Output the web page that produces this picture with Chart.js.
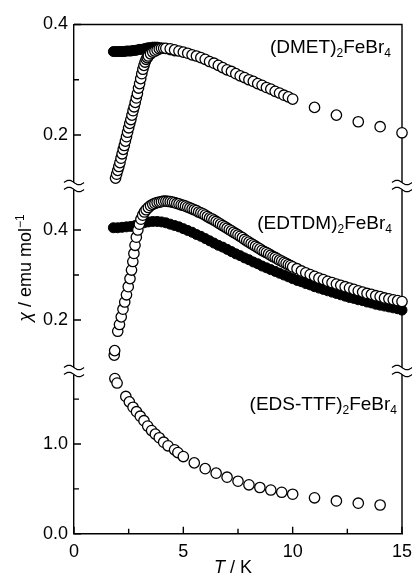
<!DOCTYPE html>
<html>
<head>
<meta charset="utf-8">
<script src="https://cdn.jsdelivr.net/npm/chart.js@4.4.1/dist/chart.umd.min.js"></script>
<style>
  html, body { margin: 0; padding: 0; background: #fff; }
  #wrap { width: 412px; height: 576px; }
</style>
</head>
<body>
<div id="wrap"><canvas id="chart" width="412" height="576"></canvas></div>
<script>
// (DMET)2FeBr4, top panel
const dmetOpenT = [
  1.90, 1.95, 2.00, 2.05, 2.10, 2.15, 2.20, 2.25, 2.30, 2.35, 2.40, 2.45, 2.50, 2.55, 2.60,
  2.65, 2.70, 2.75, 2.80, 2.85, 2.90, 2.95, 3.00, 3.05, 3.10, 3.15, 3.20, 3.25, 3.30, 3.35,
  3.40, 3.50, 3.60, 3.70, 3.80, 3.90, 4.00, 4.10,
  4.2, 4.4, 4.6, 4.8, 5.0, 5.2, 5.4, 5.6, 5.8, 6.0, 6.2, 6.4, 6.6, 6.8, 7.0, 7.2, 7.4, 7.6,
  7.8, 8.0, 8.2, 8.4, 8.6, 8.8, 9.0, 9.2, 9.4, 9.6, 9.8, 10.0,
  11.0, 12.0, 13.0, 14.0, 15.0,
];
const dmetOpenChi = [
  0.122, 0.129, 0.136, 0.143, 0.150, 0.158, 0.166, 0.174, 0.181, 0.189, 0.197, 0.205, 0.213, 0.221, 0.228,
  0.236, 0.244, 0.251, 0.259, 0.267, 0.275, 0.285, 0.293, 0.302, 0.311, 0.319, 0.326, 0.332, 0.337, 0.340,
  0.343, 0.347, 0.350, 0.352, 0.354, 0.356, 0.357, 0.357,
  0.357, 0.356, 0.354, 0.352, 0.350, 0.348, 0.345, 0.343, 0.340, 0.337, 0.333, 0.330, 0.326, 0.322, 0.318, 0.315, 0.311, 0.307,
  0.304, 0.300, 0.297, 0.293, 0.290, 0.286, 0.283, 0.279, 0.276, 0.272, 0.269, 0.265,
  0.250, 0.236, 0.224, 0.215, 0.204,
];
const dmetFilledT = [
  1.8, 1.9, 2.0, 2.1, 2.2, 2.3, 2.4, 2.5, 2.6, 2.7, 2.8, 2.9, 3.0, 3.1, 3.2, 3.3, 3.4, 3.5,
  3.6, 3.7, 3.8, 3.9, 4.0, 4.2, 4.4, 4.6,
];
const dmetFilledChi = [
  0.351, 0.351, 0.351, 0.351, 0.351, 0.351, 0.352, 0.352, 0.352, 0.353, 0.353, 0.354, 0.355, 0.355, 0.356, 0.357, 0.358, 0.358,
  0.359, 0.359, 0.359, 0.358, 0.357, 0.356, 0.354, 0.352,
];

// (EDTDM)2FeBr4, middle panel
const edtdmOpenT = [
  1.84, 1.86, 2.00, 2.08, 2.16, 2.24, 2.32, 2.40, 2.48, 2.56, 2.63, 2.69, 2.74, 2.79, 2.85,
  2.92, 2.99, 3.06, 3.14, 3.22, 3.30, 3.40, 3.50, 3.60, 3.70, 3.80, 3.90, 4.00, 4.10, 4.20,
  4.3, 4.4, 4.5, 4.6, 4.7, 4.8, 4.9, 5.0, 5.1, 5.2, 5.3, 5.4, 5.5, 5.6, 5.7, 5.8, 5.9, 6.0,
  6.1, 6.2, 6.3, 6.4, 6.5, 6.6, 6.7, 6.8, 6.9, 7.0, 7.1, 7.2, 7.3, 7.4, 7.5, 7.6, 7.7, 7.8,
  7.9, 8.0, 8.1, 8.2, 8.3, 8.4, 8.5, 8.6, 8.7, 8.8, 8.9, 9.0, 9.1, 9.2, 9.3, 9.4, 9.5, 9.6,
  9.7, 9.8, 9.9, 10.0,
  10.2, 10.4, 10.6, 10.8, 11.0, 11.2, 11.4, 11.6, 11.8, 12.0, 12.2, 12.4, 12.6, 12.8, 13.0,
  13.2, 13.4, 13.6, 13.8, 14.0, 14.2, 14.4, 14.6, 14.8, 15.0,
];
const edtdmOpenChi = [
  0.122, 0.132, 0.175, 0.190, 0.207, 0.224, 0.240, 0.256, 0.274, 0.292, 0.311, 0.330, 0.348, 0.366, 0.384,
  0.400, 0.413, 0.424, 0.433, 0.440, 0.445, 0.450, 0.454, 0.457, 0.459, 0.461, 0.462, 0.463, 0.464, 0.464,
  0.4635, 0.463, 0.462, 0.461, 0.459, 0.458, 0.456, 0.455, 0.453, 0.451, 0.449, 0.447, 0.445, 0.443, 0.440, 0.438, 0.436, 0.433,
  0.430, 0.427, 0.425, 0.422, 0.419, 0.416, 0.413, 0.410, 0.407, 0.404, 0.401, 0.398, 0.395, 0.392, 0.389, 0.386, 0.383, 0.379,
  0.376, 0.373, 0.370, 0.367, 0.364, 0.361, 0.358, 0.355, 0.352, 0.350, 0.347, 0.344, 0.341, 0.339, 0.336, 0.333, 0.331, 0.328,
  0.326, 0.323, 0.321, 0.318,
  0.314, 0.309, 0.305, 0.301, 0.297, 0.293, 0.290, 0.286, 0.283, 0.280, 0.277, 0.274, 0.271, 0.268, 0.265,
  0.262, 0.259, 0.257, 0.254, 0.252, 0.249, 0.247, 0.245, 0.243, 0.241,
];
const edtdmFilledT = [
  1.8, 2.0, 2.2, 2.4, 2.6, 2.8, 3.0, 3.2, 3.4, 3.6, 3.8, 4.0, 4.2, 4.4, 4.6, 4.8, 5.0, 5.2,
  5.4, 5.6, 5.8, 6.0, 6.2, 6.4, 6.6, 6.8, 7.0, 7.2, 7.4, 7.6, 7.8, 8.0, 8.2, 8.4, 8.6, 8.8,
  9.0, 9.2, 9.4, 9.6, 9.8, 10.0, 10.2, 10.4, 10.6, 10.8, 11.0, 11.2, 11.4, 11.6, 11.8, 12.0,
  12.2, 12.4, 12.6, 12.8, 13.0, 13.2, 13.4, 13.6, 13.8, 14.0, 14.2, 14.4, 14.6, 14.8, 15.0,
];
const edtdmFilledChi = [
  0.405, 0.405, 0.406, 0.407, 0.408, 0.410, 0.413, 0.416, 0.418, 0.419, 0.419, 0.418, 0.416, 0.413, 0.410, 0.407, 0.403, 0.399,
  0.395, 0.390, 0.386, 0.381, 0.376, 0.371, 0.366, 0.362, 0.357, 0.352, 0.347, 0.343, 0.338, 0.334, 0.329, 0.325, 0.320, 0.316,
  0.312, 0.308, 0.304, 0.300, 0.296, 0.292, 0.288, 0.285, 0.281, 0.278, 0.274, 0.271, 0.268, 0.265, 0.262, 0.259,
  0.256, 0.253, 0.250, 0.248, 0.245, 0.243, 0.240, 0.238, 0.235, 0.233, 0.231, 0.229, 0.227, 0.225, 0.222,
];

// (EDS-TTF)2FeBr4, bottom panel
const edsT = [
  1.87, 1.97, 2.37, 2.53, 2.70, 2.86, 3.03, 3.20, 3.37, 3.55, 3.72, 3.90, 4.10, 4.30, 4.60,
  4.75, 5.00, 5.50, 6.00, 6.50, 7.00, 7.50, 8.00, 8.50, 9.00, 9.50, 10.0, 11.0, 12.0, 13.0, 14.0,
];
const edsChi = [
  1.73, 1.68, 1.53, 1.47, 1.41, 1.36, 1.31, 1.26, 1.20, 1.15, 1.11, 1.07, 1.02, 0.98, 0.935,
  0.905, 0.86, 0.79, 0.725, 0.675, 0.63, 0.585, 0.545, 0.515, 0.487, 0.462, 0.44, 0.40, 0.365, 0.34, 0.32,
];

// axes
const xTicks = [0, 5, 10, 15];
const xMinorTicks = [2.5, 7.5, 12.5];
const topTicks = [0.2, 0.4];
const topMinorTicks = [0.3];
const midTicks = [0.2, 0.4];
const midMinorTicks = [0.3];
const botTicks = [0.0, 1.0];
const botMinorTicks = [0.5, 1.5];

const panelLabels = [
  ["(DMET)", "2", "FeBr", "4"],
  ["(EDTDM)", "2", "FeBr", "4"],
  ["(EDS-TTF)", "2", "FeBr", "4"],
];

const FAMILY = '"Liberation Sans", Arial, Helvetica, sans-serif';
const pts = (xs, ys) => xs.map((x, i) => ({ x, y: ys[i] }));

function openSet(label, xs, ys, axis) {
  return {
    label, data: pts(xs, ys), yAxisID: axis, order: 1, clip: false,
    pointRadius: 5.2, pointBorderWidth: 1.3, pointBackgroundColor: "#fff", pointBorderColor: "#000",
  };
}
function filledSet(label, xs, ys, axis) {
  return {
    label, data: pts(xs, ys), yAxisID: axis, order: 2, clip: false,
    pointRadius: 5, pointBorderWidth: 1, pointBackgroundColor: "#000", pointBorderColor: "#000",
  };
}

function yScale(min, max, ticks, weight, stackWeight) {
  return {
    type: "linear", position: "left", stack: "chi", stackWeight, weight, min, max,
    afterBuildTicks: (s) => { s.ticks = ticks.map((v) => ({ value: v })); },
    afterFit: (s) => { s.width = 74; },
    ticks: {
      autoSkip: false, padding: 6, color: "#000",
      font: { family: FAMILY, size: 18 },
      callback: (v) => Number(v).toFixed(1),
    },
    grid: { display: false, drawTicks: false },
    border: { color: "#000", width: 1.4 },
  };
}

// frame, inward ticks, axis breaks, labels and titles
const decorations = {
  id: "decorations",
  beforeDatasetsDraw(chart) {
    const { ctx, chartArea: a, scales } = chart;
    ctx.save();
    ctx.strokeStyle = "#000";
    ctx.lineWidth = 1.4;
    ctx.beginPath();
    ctx.moveTo(a.left, a.top);
    ctx.lineTo(a.right, a.top);
    ctx.lineTo(a.right, a.bottom);
    ctx.stroke();

    ctx.beginPath();
    const yTick = (scale, v, len) => {
      const y = scale.getPixelForValue(v);
      ctx.moveTo(a.left, y);
      ctx.lineTo(a.left + len, y);
    };
    topTicks.forEach((v) => yTick(scales.yTop, v, 7));
    topMinorTicks.forEach((v) => yTick(scales.yTop, v, 5));
    midTicks.forEach((v) => yTick(scales.yMid, v, 7));
    midMinorTicks.forEach((v) => yTick(scales.yMid, v, 5));
    botTicks.forEach((v) => yTick(scales.yBot, v, 7));
    botMinorTicks.forEach((v) => yTick(scales.yBot, v, 5));
    const xTick = (v, len) => {
      const x = scales.x.getPixelForValue(v);
      ctx.moveTo(x, a.bottom);
      ctx.lineTo(x, a.bottom - len);
    };
    xTicks.forEach((v) => xTick(v, 7));
    xMinorTicks.forEach((v) => xTick(v, 5));
    ctx.stroke();
    ctx.restore();
  },
  afterDatasetsDraw(chart) {
    const { ctx, chartArea: a, scales } = chart;
    ctx.save();

    // axis breaks
    const tilde = (x, y) => {
      ctx.beginPath();
      for (let i = 0; i <= 20; i++) {
        const px = x - 10 + i;
        const py = y - 2.2 * Math.sin((i / 20) * Math.PI * 2);
        if (i === 0) ctx.moveTo(px, py); else ctx.lineTo(px, py);
      }
      ctx.stroke();
    };
    ctx.strokeStyle = "#000";
    ctx.lineWidth = 1.3;
    [scales.yTop.bottom, scales.yMid.bottom].forEach((yb) => {
      [a.left, a.right].forEach((x) => {
        ctx.fillStyle = "#fff";
        ctx.fillRect(x - 11, yb - 3.5, 22, 7);
        tilde(x, yb - 3.5);
        tilde(x, yb + 3.5);
      });
    });

    // compound labels with subscripts
    ctx.fillStyle = "#000";
    ctx.textBaseline = "alphabetic";
    ctx.textAlign = "left";
    const big = `19px ${FAMILY}`;
    const small = `12px ${FAMILY}`;
    const drawFormula = (parts, xRight, base) => {
      let w = 0;
      parts.forEach((p, i) => { ctx.font = i % 2 ? small : big; w += ctx.measureText(p).width; });
      let x = xRight - w;
      parts.forEach((p, i) => {
        ctx.font = i % 2 ? small : big;
        ctx.fillText(p, x, i % 2 ? base + 4 : base);
        x += ctx.measureText(p).width;
      });
    };
    drawFormula(panelLabels[0], a.right - 11, 53);
    drawFormula(panelLabels[1], a.right - 10, 229);
    drawFormula(panelLabels[2], a.right - 5, 410);

    // axis titles
    const title = `18px ${FAMILY}`;
    const italic = `italic 18px ${FAMILY}`;
    const sup = `12px ${FAMILY}`;
    ctx.save();
    ctx.translate(31, 268);
    ctx.rotate(-Math.PI / 2);
    const yParts = [["χ", italic, 0], [" / emu mol", title, 0], ["−1", sup, -7]];
    let wy = 0;
    yParts.forEach(([t, f]) => { ctx.font = f; wy += ctx.measureText(t).width; });
    let px = -wy / 2;
    yParts.forEach(([t, f, dy]) => { ctx.font = f; ctx.fillText(t, px, dy); px += ctx.measureText(t).width; });
    ctx.restore();

    const xParts = [["T", italic], [" / K", title]];
    let wx = 0;
    xParts.forEach(([t, f]) => { ctx.font = f; wx += ctx.measureText(t).width; });
    px = 233 - wx / 2;
    xParts.forEach(([t, f]) => { ctx.font = f; ctx.fillText(t, px, 573); px += ctx.measureText(t).width; });

    ctx.restore();
  },
};

new Chart(document.getElementById("chart"), {
  type: "scatter",
  data: {
    datasets: [
      openSet("(DMET)2FeBr4", dmetOpenT, dmetOpenChi, "yTop"),
      filledSet("(DMET)2FeBr4", dmetFilledT, dmetFilledChi, "yTop"),
      openSet("(EDTDM)2FeBr4", edtdmOpenT, edtdmOpenChi, "yMid"),
      filledSet("(EDTDM)2FeBr4", edtdmFilledT, edtdmFilledChi, "yMid"),
      openSet("(EDS-TTF)2FeBr4", edsT, edsChi, "yBot"),
    ],
  },
  options: {
    responsive: false,
    animation: false,
    events: [],
    layout: { padding: { top: 24.5, right: 10, left: 0, bottom: 0 } },
    plugins: { legend: { display: false }, tooltip: { enabled: false } },
    scales: {
      x: {
        type: "linear", position: "bottom", min: 0, max: 15,
        afterBuildTicks: (s) => { s.ticks = xTicks.map((v) => ({ value: v })); },
        afterFit: (s) => { s.height = 42.3; s.paddingLeft = 0; s.paddingRight = 0; },
        ticks: { autoSkip: false, maxRotation: 0, padding: 8, color: "#000", font: { family: FAMILY, size: 18 } },
        grid: { display: false, drawTicks: false },
        border: { color: "#000", width: 1.4 },
      },
      yBot: yScale(0, 1.814, botTicks, 1, 162.7),
      yMid: yScale(0.0867, 0.4978, midTicks, 2, 185),
      yTop: yScale(0.1077, 0.4, topTicks, 3, 161.5),
    },
  },
  plugins: [decorations],
});
</script>
</body>
</html>
